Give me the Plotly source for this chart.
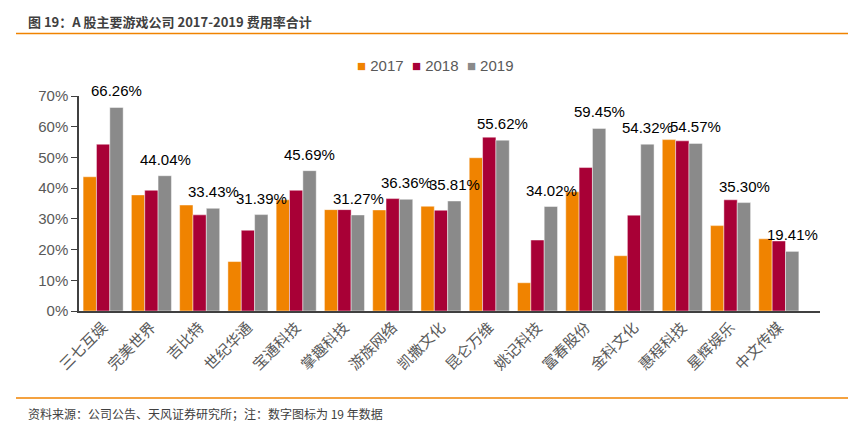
import plotly.graph_objects as go

categories = ["三七互娱", "完美世界", "吉比特", "世纪华通", "宝通科技", "掌趣科技", "游族网络",
              "凯撒文化", "昆仑万维", "姚记科技", "富春股份", "金科文化", "惠程科技", "星辉娱乐", "中文传媒"]
v2017 = [43.7, 37.8, 34.5, 16.1, 36.2, 33.0, 32.9, 34.1, 49.9, 9.2, 38.8, 18.0, 55.8, 27.8, 23.5]
v2018 = [54.3, 39.3, 31.3, 26.3, 39.3, 33.0, 36.6, 32.8, 56.6, 23.1, 46.7, 31.2, 55.4, 36.2, 22.8]
v2019 = [66.26, 44.04, 33.43, 31.39, 45.69, 31.27, 36.36, 35.81, 55.62, 34.02, 59.45, 54.32, 54.57, 35.30, 19.41]
years = ["2017", "2018", "2019"]
colors = ["#F08300", "#A80036", "#8A8A8A"]
yticks = [0, 10, 20, 30, 40, 50, 60, 70]

FONT = "Liberation Sans, Arial, Noto Sans CJK SC, sans-serif"
CJK = "Noto Sans CJK SC, Liberation Sans, sans-serif"

PT, PB, PL, PR = 96, 311, 79, 820  # plot area in px
BARGAP = 0.17


def py(px):
    return (PB - px) / (PB - PT)


def pxx(px):
    return (px - PL) / (PR - PL)


fig = go.Figure()
for name, vals, col in zip(years, [v2017, v2018, v2019], colors):
    fig.add_trace(go.Bar(
        name=name, x=categories, y=[v / 100 for v in vals], showlegend=False,
        marker=dict(color=col, line=dict(color="rgba(255,255,255,0.45)", width=1)),
    ))

# data labels for the 2019 series, centred on the 2019 bar of each group
cat_px = (PR - PL) / len(categories)
bar_px = cat_px * (1 - BARGAP) / 3
for c, v in zip(categories, v2019):
    fig.add_annotation(x=c, y=v / 100, xref="x", yref="y", text=f"{v:.2f}%", showarrow=False,
                       xanchor="center", yanchor="bottom", xshift=bar_px, yshift=6,
                       font=dict(family=FONT, size=15, color="#000000"))

# compact legend (square marker + year), built from the series names and colours
NB = "\u00a0"
legend_text = (NB * 2).join(
    f"<span style='color:{col}'>■</span>{NB}{name}" for name, col in zip(years, colors))
fig.add_annotation(xref="paper", yref="paper", x=pxx(435), y=py(65), xanchor="center",
                   yanchor="middle", showarrow=False, text=legend_text,
                   font=dict(family=FONT, size=15, color="#595959"))

fig.update_layout(
    width=867, height=422,
    margin=dict(l=PL, r=867 - PR, t=PT, b=422 - PB, autoexpand=False),
    paper_bgcolor="white", plot_bgcolor="white",
    barmode="group", bargap=BARGAP, bargroupgap=0,
    font=dict(family=FONT, size=15, color="#595959"),
    showlegend=False,
    xaxis=dict(showline=True, linecolor="#404040", linewidth=1.5, ticks="", tickangle=-45,
               tickfont=dict(family=CJK, size=15, color="#595959"), showgrid=False, automargin=False),
    yaxis=dict(range=[0, 0.7], tickvals=[t / 100 for t in yticks], ticktext=[f"{t}%" for t in yticks],
               showline=True, linecolor="#404040", linewidth=1.5, ticks="outside", ticklen=6,
               tickcolor="#404040", showgrid=False, zeroline=False, automargin=False,
               tickfont=dict(size=15, color="#595959")),
)

fig.add_annotation(xref="paper", yref="paper", x=pxx(26), y=py(21),
                   xanchor="left", yanchor="middle", showarrow=False,
                   text="<b>图 19：A 股主要游戏公司 2017-2019 费用率合计</b>",
                   font=dict(family=CJK, size=13, color="#404040"))
fig.add_annotation(xref="paper", yref="paper", x=pxx(26), y=py(413),
                   xanchor="left", yanchor="middle", showarrow=False,
                   text="资料来源：公司公告、天风证券研究所；注：数字图标为 19 年数据",
                   font=dict(family=CJK, size=12, color="#404040"))
for yy in [33.5, 398]:
    fig.add_shape(type="line", xref="paper", yref="paper",
                  x0=pxx(16), x1=pxx(848), y0=py(yy), y1=py(yy),
                  line=dict(color="#F08300", width=1.5))

fig.write_html("out.html")
